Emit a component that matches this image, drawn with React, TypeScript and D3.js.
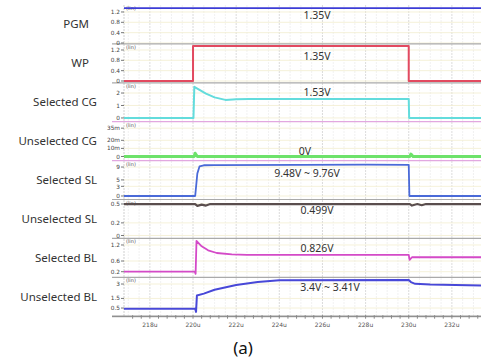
import React, { useEffect, useRef } from 'react';
import * as d3 from 'd3';

// waveform panels, top to bottom
const panelNames = ['PGM', 'WP', 'Selected CG', 'Unselected CG', 'Selected SL', 'Unselected SL', 'Selected BL', 'Unselected BL'];
const panelDomains = [[-0.035, 1.47], [-0.07, 1.436], [-0.3, 2.82], [-0.0051, 0.043], [-1.09, 11.0], [-0.046, 0.571], [-0.01, 1.446], [-0.35, 3.7]];
const yTickValues = [[0, 0.4, 0.8, 1.2], [0, 0.4, 0.8, 1.2], [0, 1, 2], [0, 0.01, 0.02, 0.035], [0, 3, 5, 9], [0, 0.2, 0.5], [0.2, 0.6, 1.2], [0.5, 1.5, 3]];
const yTickLabels = [['0', '0.4', '0.8', '1.2'], ['0', '0.4', '0.8', '1.2'], ['0', '1', '2'], ['0', '10m', '20m', '35m'], ['0', '3', '5', '9'], ['0', '0.2', '0.5'], ['0.2', '0.6', '1.2'], ['0.5', '1.5', '3']];
const annotations = ['1.35V', '1.35V', '1.53V', '0V', '9.48V ~ 9.76V', '0.499V', '0.826V', '3.4V ~ 3.41V'];

const timeTicks = [218, 220, 222, 224, 226, 228, 230, 232];
const timeLabels = ['218u', '220u', '222u', '224u', '226u', '228u', '230u', '232u'];

// [time (us), voltage]
const pgm = [[216.8, 1.35], [233.35, 1.35]];
const wp = [[216.8, 0], [220, 0], [220, 1.35], [230, 1.35], [230, 0], [233.35, 0]];
const selCG = [[216.8, 0], [220.02, 0], [220.06, 2.5], [220.3, 2.25], [220.6, 1.95], [221, 1.65], [221.5, 1.45], [222, 1.5], [222.6, 1.53], [230, 1.53], [230.02, 0], [233.35, 0]];
const unselCG = [[216.8, 0], [220.05, 0], [220.1, 0.004], [220.2, 0], [230.05, 0], [230.1, 0.003], [230.2, 0], [233.35, 0]];
const selSL = [[216.8, 0], [220.1, 0], [220.2, 7], [220.3, 9.2], [220.5, 9.55], [221, 9.62], [225, 9.7], [228, 9.76], [230, 9.7], [230.03, 0], [233.35, 0]];
const unselSL = [[216.8, 0.499], [220.1, 0.499], [220.2, 0.47], [220.4, 0.49], [220.6, 0.475], [220.8, 0.499], [230.05, 0.499], [230.15, 0.475], [230.4, 0.499], [230.6, 0.48], [230.8, 0.499], [233.35, 0.499]];
const selBL = [[216.8, 0.2], [220.08, 0.2], [220.12, 0.12], [220.16, 1.35], [220.4, 1.15], [220.7, 1.0], [221.1, 0.9], [221.8, 0.85], [222.5, 0.83], [230, 0.826], [230.04, 0.64], [230.15, 0.74], [233.35, 0.74]];
const unselBL = [[216.8, 0.42], [220.1, 0.42], [220.14, 0.1], [220.18, 1.8], [220.5, 2.0], [221, 2.4], [222, 2.9], [223, 3.22], [224, 3.4], [230, 3.41], [230.1, 3.2], [230.3, 3.02], [231, 2.95], [233.35, 2.85]];
const series = [pgm, wp, selCG, unselCG, selSL, unselSL, selBL, unselBL];

const lineColors = ['#3d3dd6', '#e24a60', '#63dcdc', '#6de26a', '#4a6ad8', '#5a4e4e', '#d44ac8', '#4848d8'];
const lineWidths = [1.6, 2, 2, 3, 1.8, 2.2, 1.8, 2];
const sepColors = ['#aaa', '#aaa', '#e2a8e0', '#e2a8e0', '#aaa', '#aaa', '#aaa', '#999'];
const annX = [317, 317, 317, 305, 307, 317, 317, 330];
const annDy = [10, 12, 10, 30, 12.5, 10.5, 10, 10];

const App = () => {
  const svgRef = useRef(null);

  useEffect(() => {
    const svg = d3.select(svgRef.current);
    svg.selectAll('*').remove();

    const left = 124, right = 481, top = 5, panelH = 38.9;
    const bottom = top + panelH * panelNames.length;

    const x = d3.scaleLinear().domain([216.8, 233.35]).range([left, right]);

    // vertical grid
    svg.append('g')
      .selectAll('line')
      .data(d3.range(217, 233.3, 0.5))
      .join('line')
      .attr('x1', d => x(d)).attr('x2', d => x(d))
      .attr('y1', top).attr('y2', bottom)
      .attr('stroke', d => (Math.abs(d % 2) < 0.01 ? '#d2d2d2' : '#eeeeee'))
      .attr('stroke-dasharray', '2,1')
      .attr('stroke-width', 0.8);

    // left border
    svg.append('line')
      .attr('x1', left).attr('x2', left).attr('y1', top).attr('y2', bottom)
      .attr('stroke', '#cfcfcf').attr('stroke-dasharray', '2,1');

    panelNames.forEach((name, i) => {
      const pTop = top + i * panelH;
      const pBot = pTop + panelH;
      const y = d3.scaleLinear().domain(panelDomains[i]).range([pBot, pTop]);
      const g = svg.append('g');

      // horizontal grid
      g.selectAll('line.hgrid')
        .data(yTickValues[i])
        .join('line')
        .attr('class', 'hgrid')
        .attr('x1', left).attr('x2', right)
        .attr('y1', d => y(d)).attr('y2', d => y(d))
        .attr('stroke', '#f3edcf')
        .attr('stroke-width', 0.8);

      // separator under panel
      g.append('line')
        .attr('x1', 112).attr('x2', right)
        .attr('y1', pBot).attr('y2', pBot)
        .attr('stroke', sepColors[i])
        .attr('stroke-width', 1.2);

      // y ticks
      g.selectAll('line.ytick')
        .data(yTickValues[i])
        .join('line')
        .attr('class', 'ytick')
        .attr('x1', left - 3).attr('x2', left)
        .attr('y1', d => y(d)).attr('y2', d => y(d))
        .attr('stroke', '#777');

      // keep crowded tick labels apart
      const labelY = yTickValues[i].map(d => y(d));
      for (let k = 1; k < labelY.length; k++) {
        const gap = labelY[k - 1] - labelY[k];
        if (gap < 7) {
          const push = (7 - gap) / 2;
          labelY[k - 1] += push;
          labelY[k] -= push;
        }
      }

      g.selectAll('text.ylab')
        .data(yTickValues[i])
        .join('text')
        .attr('class', 'ylab')
        .attr('x', left - 4)
        .attr('y', (d, j) => labelY[j])
        .attr('dy', '0.35em')
        .attr('text-anchor', 'end')
        .attr('font-family', 'DejaVu Sans, sans-serif')
        .attr('font-size', 5.8)
        .attr('fill', '#444')
        .text((d, j) => yTickLabels[i][j]);

      g.append('text')
        .attr('x', left + 2).attr('y', pTop + 5)
        .attr('font-family', 'DejaVu Sans, sans-serif')
        .attr('font-size', 5)
        .attr('fill', '#555')
        .text('(lin)');

      // signal name
      g.append('text')
        .attr('x', i < 2 ? 89 : 97)
        .attr('y', pTop + panelH / 2)
        .attr('dy', '0.35em')
        .attr('text-anchor', 'end')
        .attr('font-family', 'Noto Sans, sans-serif')
        .attr('font-size', 11.5)
        .attr('fill', '#333')
        .text(name);

      const line = d3.line()
        .x(d => x(d[0]))
        .y(d => y(d[1]));

      g.append('path')
        .datum(series[i])
        .attr('fill', 'none')
        .attr('stroke', lineColors[i])
        .attr('stroke-width', lineWidths[i])
        .attr('stroke-linejoin', 'round')
        .attr('d', line);

      g.append('text')
        .attr('x', annX[i])
        .attr('y', pTop + annDy[i])
        .attr('dy', '0.35em')
        .attr('text-anchor', 'middle')
        .attr('font-family', 'Noto Sans, sans-serif')
        .attr('font-size', 10.5)
        .attr('fill', '#333')
        .text(annotations[i]);
    });

    // time axis
    const axis = svg.append('g');
    axis.append('line')
      .attr('x1', 112).attr('x2', right).attr('y1', bottom + 0.5).attr('y2', bottom + 0.5)
      .attr('stroke', '#888');
    axis.selectAll('line.minor')
      .data(d3.range(217.2, 233.3, 0.4))
      .join('line')
      .attr('class', 'minor')
      .attr('x1', d => x(d)).attr('x2', d => x(d))
      .attr('y1', bottom - 1).attr('y2', bottom + 2.5)
      .attr('stroke', '#888');
    axis.selectAll('text')
      .data(timeTicks)
      .join('text')
      .attr('x', d => x(d))
      .attr('y', bottom + 11)
      .attr('text-anchor', 'middle')
      .attr('font-family', 'DejaVu Sans, sans-serif')
      .attr('font-size', 6)
      .attr('fill', '#555')
      .text((d, j) => timeLabels[j]);

    svg.append('text')
      .attr('x', 243).attr('y', 354)
      .attr('text-anchor', 'middle')
      .attr('font-family', 'Noto Sans, sans-serif')
      .attr('font-size', 17)
      .attr('fill', '#111')
      .text('(a)');
  }, []);

  return (
    <svg ref={svgRef} width={481} height={363} style={{ position: 'absolute', left: 0, top: 0, background: '#fff' }} />
  );
};

export default App;
